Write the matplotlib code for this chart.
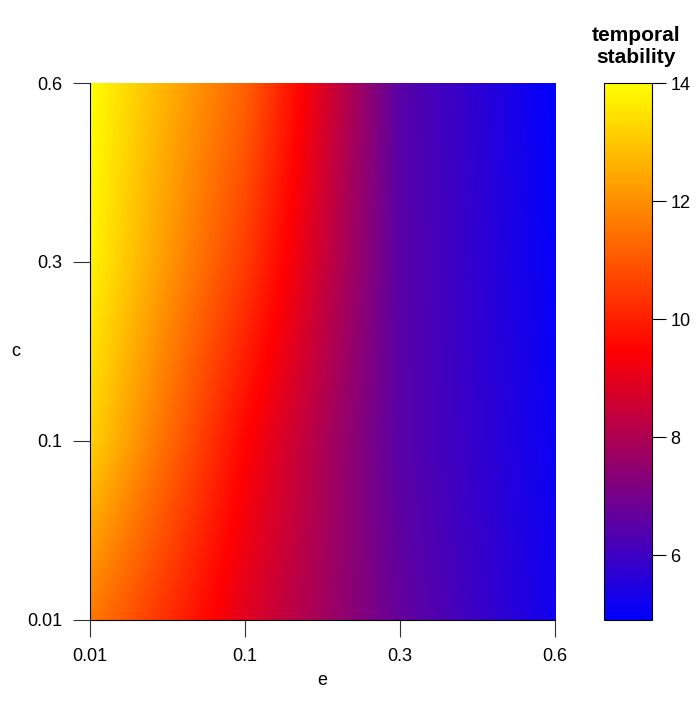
import matplotlib
matplotlib.use("Agg")
import matplotlib.pyplot as plt
import numpy as np
from matplotlib.colors import LinearSegmentedColormap

plt.rcParams['font.family'] = ['Liberation Sans', 'DejaVu Sans']

e_labels = ['0.01', '0.1', '0.3', '0.6']
c_labels = ['0.01', '0.1', '0.3', '0.6']

# temporal stability, rows = c (0.01 -> 0.6), cols = e (0.01 -> 0.6)
stab_c001 = [11.6, 8.9, 6.7, 5.2]
stab_c01 = [13.2, 9.5, 6.5, 5.1]
stab_c03 = [13.8, 10.5, 6.5, 5.0]
stab_c06 = [14.0, 11.2, 6.5, 4.9]

vmin, vmax = 4.9, 14.0

Z = np.array([stab_c001, stab_c01, stab_c03, stab_c06])

cmap = LinearSegmentedColormap.from_list('bry', ['blue', 'red', 'yellow'])

fig = plt.figure(figsize=(7, 7.15), dpi=100)
ax = fig.add_axes([0.1286, 0.1329, 0.6643, 0.7510])
cax = fig.add_axes([0.863, 0.1329, 0.0686, 0.7510])

n = len(e_labels)
im = ax.imshow(Z, origin='lower', cmap=cmap, vmin=vmin, vmax=vmax,
               extent=(-0.5, n - 0.5, -0.5, n - 0.5), aspect='auto',
               interpolation='bilinear', interpolation_stage='data')
ax.set_xlim(0, n - 1)
ax.set_ylim(0, n - 1)
ax.set_xticks(range(n))
ax.set_xticklabels(e_labels)
ax.set_yticks(range(n))
ax.set_yticklabels(c_labels)
ax.spines['top'].set_visible(False)
ax.spines['right'].set_visible(False)
ax.tick_params(axis='both', labelsize=13, length=12, width=0.8, pad=8, colors='#333333', labelcolor='black')
ax.set_xlabel('e', fontsize=13)
ax.set_ylabel('c', fontsize=13, rotation=0, va='center', ha='center')
ax.xaxis.set_label_coords(0.5, -0.097)
ax.yaxis.set_label_coords(-0.16, 0.5)

cb = fig.colorbar(im, cax=cax)
cb.set_ticks([6, 8, 10, 12, 14])
cb.outline.set_linewidth(0.8)
cax.tick_params(labelsize=13, length=10, width=0.8, pad=3)
fig.text(0.908, 0.935, 'temporal\nstability', ha='center', va='center',
         fontsize=15, fontweight='bold', linespacing=1.2)

fig.savefig('out.png', dpi=100)
